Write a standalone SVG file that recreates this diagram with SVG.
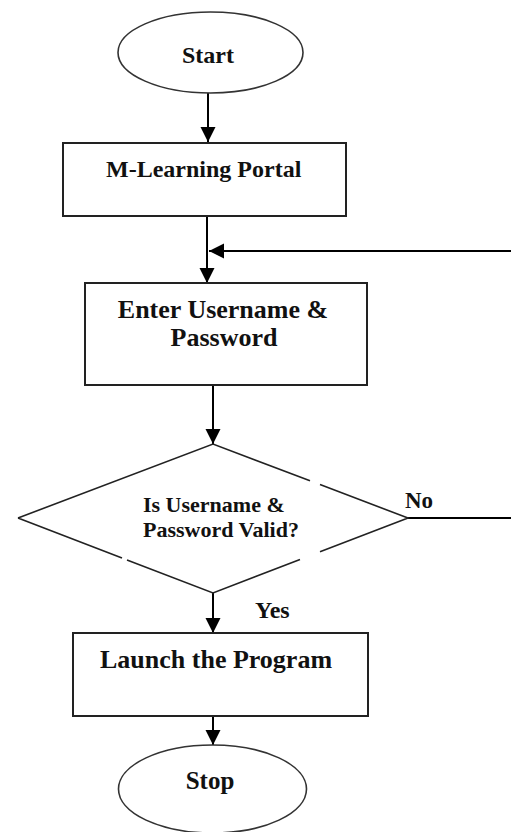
<svg xmlns="http://www.w3.org/2000/svg" width="511" height="832" viewBox="0 0 511 832" font-family="'Liberation Serif', 'DejaVu Serif', serif" font-weight="bold">
  <style>
    .box { fill: #ffffff; stroke: #222222; stroke-width: 2; }
    .term { fill: #ffffff; stroke: #333333; stroke-width: 1.6; }
    .diamond { fill: none; stroke: #222222; stroke-width: 1.6; }
    .edge { fill: none; stroke: #000000; stroke-width: 2; }
    text { fill: #111111; }
  </style>
  <defs>
    <marker id="arrow" markerUnits="userSpaceOnUse" markerWidth="16" markerHeight="16" viewBox="0 0 16 16" refX="15" refY="8" orient="auto">
      <path d="M0,0.5 L15,8 L0,15.5 z" fill="#000000"/>
    </marker>
  </defs>

  <rect width="511" height="832" fill="#ffffff"/>

  <g id="connectors">
    <line class="edge" x1="208" y1="93" x2="208" y2="142" marker-end="url(#arrow)"/>
    <line class="edge" x1="207" y1="216" x2="207" y2="283" marker-end="url(#arrow)"/>
    <path class="edge" d="M408 518 H 520 V 251 H 209" marker-end="url(#arrow)"/>
    <line class="edge" x1="213" y1="385" x2="213" y2="444" marker-end="url(#arrow)"/>
    <line class="edge" x1="213" y1="593" x2="213" y2="633" marker-end="url(#arrow)"/>
    <line class="edge" x1="213" y1="716" x2="213" y2="745" marker-end="url(#arrow)"/>
    <text x="405" y="508" font-size="23">No</text>
    <text x="255" y="618" font-size="24">Yes</text>
  </g>

  <g id="start">
    <ellipse class="term" cx="210.5" cy="52.5" rx="92.5" ry="40.5"/>
    <text x="208" y="63" font-size="24" text-anchor="middle">Start</text>
  </g>

  <g id="portal">
    <rect class="box" x="63" y="143" width="283" height="73"/>
    <text x="106" y="177" font-size="24">M-Learning Portal</text>
  </g>

  <g id="login">
    <rect class="box" x="85" y="283" width="282" height="102"/>
    <text x="223" y="318" font-size="26" text-anchor="middle">Enter Username &amp;</text>
    <text x="224" y="346" font-size="26" text-anchor="middle">Password</text>
  </g>

  <g id="check">
    <path class="diamond" d="M18 518 L213 444 L310 480.8 M320 484.6 L408 518 L320 551.8 M300 559.5 L213 593 L127 559.9 M122 558 L18 518"/>
    <text x="143" y="512" font-size="22">Is Username &amp;</text>
    <text x="143" y="537" font-size="22">Password Valid?</text>
  </g>

  <g id="launch">
    <rect class="box" x="73" y="633" width="295" height="83"/>
    <text x="100" y="668" font-size="26">Launch the Program</text>
  </g>

  <g id="stop">
    <ellipse class="term" cx="212.5" cy="789" rx="94" ry="44"/>
    <text x="210" y="789" font-size="25" text-anchor="middle">Stop</text>
  </g>
</svg>
